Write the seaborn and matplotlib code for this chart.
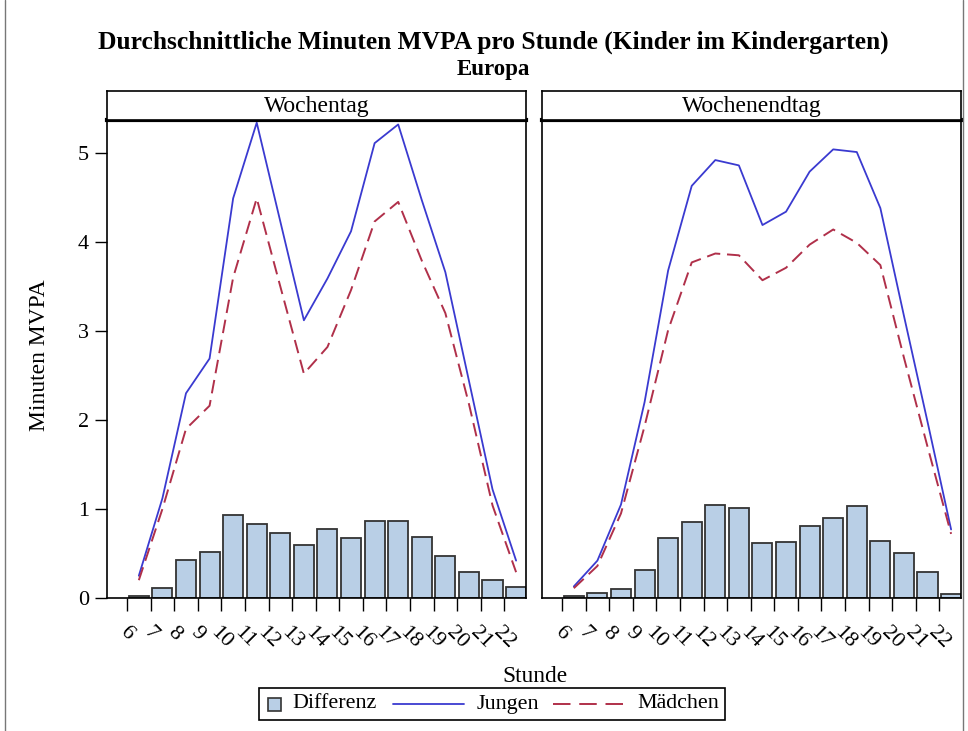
import numpy as np
import pandas as pd
import matplotlib
matplotlib.use('Agg')
import matplotlib.pyplot as plt
import seaborn as sns
from matplotlib.patches import Rectangle
from matplotlib.lines import Line2D

# Hours of the day (bar i covers the hour from h to h+1)
hours = list(range(6, 23))

# Wochentag (weekday)
diff_wt = [0.02, 0.11, 0.43, 0.52, 0.93, 0.83, 0.73, 0.59, 0.77, 0.67, 0.87, 0.87, 0.69, 0.47, 0.29, 0.20, 0.12]
jungen_wt = [0.25, 1.12, 2.30, 2.69, 4.49, 5.34, 4.23, 3.12, 3.59, 4.12, 5.11, 5.32, 4.47, 3.66, 2.44, 1.22, 0.42]
maedchen_wt = [0.20, 1.00, 1.90, 2.16, 3.60, 4.49, 3.50, 2.52, 2.82, 3.46, 4.23, 4.45, 3.79, 3.20, 2.18, 1.04, 0.29]

# Wochenendtag (weekend day)
diff_we = [0.02, 0.06, 0.10, 0.32, 0.67, 0.85, 1.05, 1.01, 0.62, 0.63, 0.81, 0.90, 1.03, 0.64, 0.50, 0.29, 0.05]
jungen_we = [0.13, 0.42, 1.05, 2.20, 3.68, 4.63, 4.92, 4.86, 4.19, 4.34, 4.79, 5.04, 5.01, 4.38, 3.17, 1.98, 0.77]
maedchen_we = [0.11, 0.36, 0.95, 1.93, 3.01, 3.77, 3.87, 3.85, 3.57, 3.71, 3.97, 4.14, 3.99, 3.74, 2.70, 1.70, 0.72]

panels = ['Wochentag', 'Wochenendtag']
panel_data = {
    'Wochentag': (diff_wt, jungen_wt, maedchen_wt),
    'Wochenendtag': (diff_we, jungen_we, maedchen_we),
}
legend_labels = ['Differenz', 'Jungen', 'Mädchen']

BAR_COLOR = '#B9CFE6'
BLUE = '#3A3AD0'
RED = '#B0304A'
DASH = (0, (7, 3.5))

sns.set_theme(style='white')
plt.rcParams['font.family'] = ['Liberation Serif', 'DejaVu Serif']
plt.rcParams['text.color'] = 'black'
plt.rcParams['axes.labelcolor'] = 'black'
plt.rcParams['xtick.color'] = 'black'
plt.rcParams['ytick.color'] = 'black'

W, H = 968, 731
fig = plt.figure(figsize=(W / 100, H / 100), dpi=100)


def fx(px):
    return px / W


def fy(py):
    return 1 - py / H


ax_lefts = [107 / W, 542 / W]
ax_width = 419 / W
ax_bottom = 1 - 598 / H
ax_height = (598 - 120) / H
strip_h = 29 / H

for i, name in enumerate(panels):
    diff, jungen, maedchen = panel_data[name]
    x = [h + 0.5 for h in hours]
    df = pd.DataFrame({'x': x, 'diff': diff, 'jungen': jungen, 'maedchen': maedchen})

    ax = fig.add_axes([ax_lefts[i], ax_bottom, ax_width, ax_height])
    sns.barplot(data=df, x='x', y='diff', native_scale=True, width=0.85,
                color=BAR_COLOR, saturation=1, edgecolor='#333333',
                linewidth=1.3, ax=ax)
    sns.lineplot(data=df, x='x', y='jungen', color=BLUE, lw=1.3, ax=ax)
    sns.lineplot(data=df, x='x', y='maedchen', color=RED, lw=1.4,
                 linestyle=DASH, ax=ax)

    ax.set_xlim(5.15, 22.92)
    ax.set_ylim(0, 5.37)
    ax.set_xticks(hours)
    ax.set_xticklabels([str(h) for h in hours], rotation=-45, ha='center',
                       fontsize=16)
    ax.tick_params(axis='x', direction='out', length=9, width=1, pad=9,
                   bottom=True)
    ax.set_xlabel('')
    ax.set_ylabel('')
    for s in ax.spines.values():
        s.set_color('black')
        s.set_linewidth(1.2)
    ax.spines['top'].set_linewidth(3)

    if i == 0:
        ax.set_yticks([0, 1, 2, 3, 4, 5])
        ax.set_yticklabels(['0', '1', '2', '3', '4', '5'], fontsize=16)
        ax.tick_params(axis='y', direction='out', length=9, width=1, left=True, pad=4)
    else:
        ax.set_yticks([])

    # header strip
    sax = fig.add_axes([ax_lefts[i], ax_bottom + ax_height, ax_width, strip_h])
    sax.set_xticks([])
    sax.set_yticks([])
    for s in sax.spines.values():
        s.set_color('black')
        s.set_linewidth(1.2)
    sax.text(0.5, 0.45, name, ha='center', va='center', fontsize=17,
             transform=sax.transAxes)

fig.text(fx(493), fy(42), 'Durchschnittliche Minuten MVPA pro Stunde (Kinder im Kindergarten)',
         ha='center', va='center', fontsize=18.4, fontweight='bold')
fig.text(fx(493), fy(70), 'Europa', ha='center', va='center', fontsize=16.5,
         fontweight='bold')
fig.text(fx(40), fy(355), 'Minuten MVPA', rotation=90, ha='center',
         va='center', fontsize=17)
fig.text(fx(535), fy(676), 'Stunde', ha='center', va='center', fontsize=16.8)

# legend box drawn by hand (square swatch is narrower than the line samples)
ly = fy(704)
fig.add_artist(Rectangle((fx(259), fy(720)), fx(725) - fx(259), 32 / H,
                         transform=fig.transFigure, facecolor='white',
                         edgecolor='black', lw=1.2))
fig.add_artist(Rectangle((fx(268), fy(711)), 13 / W, 13 / H,
                         transform=fig.transFigure, facecolor=BAR_COLOR,
                         edgecolor='#333333', lw=1.2))
fig.text(fx(292), ly, legend_labels[0], ha='left', va='center', fontsize=15.8)
fig.add_artist(Line2D([fx(393), fx(464)], [ly, ly], color=BLUE, lw=1.3,
                      transform=fig.transFigure))
fig.text(fx(477), ly, legend_labels[1], ha='left', va='center', fontsize=15.8)
fig.add_artist(Line2D([fx(553), fx(628)], [ly, ly], color=RED, lw=1.4,
                      linestyle=(0, (9, 4.5)), transform=fig.transFigure))
fig.text(fx(637), ly, legend_labels[2], ha='left', va='center', fontsize=15.8)

# thin outer frame at the image sides
fig.add_artist(Line2D([fx(5), fx(5)], [0, 1], color='#777777', lw=1, transform=fig.transFigure))
fig.add_artist(Line2D([fx(963), fx(963)], [0, 1], color='#777777', lw=1, transform=fig.transFigure))

fig.savefig('out.png', dpi=100)
